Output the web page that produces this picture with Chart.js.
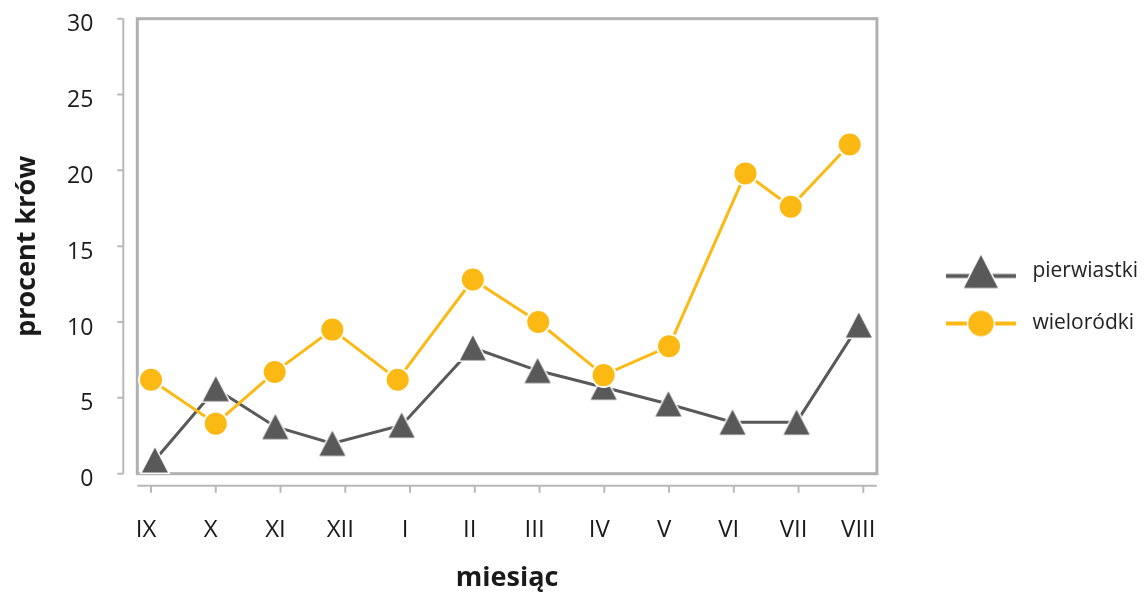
<!DOCTYPE html>
<html>
<head>
<meta charset="utf-8">
<script src="https://cdn.jsdelivr.net/npm/chart.js@4"></script>
<style>
  html, body { margin: 0; padding: 0; background: #fff; }
  #wrap { width: 1148px; height: 595px; }
</style>
</head>
<body>
<div id="wrap"><canvas id="c" width="1148" height="595"></canvas></div>
<script>
// ---- data ----
const categories = ['IX', 'X', 'XI', 'XII', 'I', 'II', 'III', 'IV', 'V', 'VI', 'VII', 'VIII'];
const seriesNames = ['pierwiastki', 'wieloródki'];
const pierwiastkiX = [0.06, 1.0, 1.92, 2.80, 3.87, 4.97, 5.97, 6.99, 7.99, 8.98, 9.97, 10.93];
const pierwiastki  = [0.9, 5.6, 3.1, 2.0, 3.2, 8.3, 6.8, 5.7, 4.6, 3.4, 3.4, 9.8];
const wielorodkiX  = [0.0, 1.0, 1.91, 2.80, 3.81, 4.97, 5.98, 6.99, 8.0, 9.18, 9.88, 10.79];
const wielorodki   = [6.2, 3.3, 6.7, 9.5, 6.2, 12.8, 10.0, 6.5, 8.4, 19.8, 17.6, 21.7];
const yTicks = [0, 5, 10, 15, 20, 25, 30];

const GRAY = '#595959';
const ORANGE = '#FDB913';
const AXIS = '#B0B0B0';

function drawTri(g, cx, cy, w, h) {
  g.beginPath();
  g.moveTo(cx, cy - h / 2);
  g.lineTo(cx + w / 2, cy + h / 2);
  g.lineTo(cx - w / 2, cy + h / 2);
  g.closePath();
  g.lineJoin = 'miter';
  g.strokeStyle = '#fff'; g.lineWidth = 3; g.stroke();
  g.fillStyle = GRAY; g.fill();
}
// marker on the chart (triangle centred on its box)
const triMarker = (() => {
  const c = document.createElement('canvas'); c.width = 32; c.height = 32;
  drawTri(c.getContext('2d'), 16, 16, 26, 25);
  return c;
})();
// legend symbols: line + marker
function legendSymbol(kind) {
  const c = document.createElement('canvas'); c.width = 114; c.height = 40;
  const g = c.getContext('2d');
  const ly = kind === 'tri' ? 24.5 : 20;
  g.strokeStyle = kind === 'tri' ? GRAY : ORANGE;
  g.lineWidth = 4;
  g.beginPath(); g.moveTo(38, ly); g.lineTo(108, ly); g.stroke();
  if (kind === 'tri') {
    drawTri(g, 73, 20, 34, 33);
  } else {
    g.beginPath(); g.arc(73, 20, 13.5, 0, Math.PI * 2);
    g.fillStyle = ORANGE; g.fill();
    g.strokeStyle = '#fff'; g.lineWidth = 1.5; g.stroke();
  }
  return c;
}
const legendSymbols = [legendSymbol('tri'), legendSymbol('circ')];

const framePlugin = {
  id: 'frame',
  beforeDatasetsDraw(chart) {
    const { ctx, chartArea: a, scales: { x, y } } = chart;
    ctx.save();
    // plot box
    ctx.strokeStyle = AXIS; ctx.lineWidth = 3;
    ctx.strokeRect(a.left, a.top, a.right - a.left, a.bottom - a.top);
    // detached y axis
    const yx = a.left - 14;
    ctx.strokeStyle = '#B8B8B8'; ctx.lineWidth = 2;
    ctx.beginPath();
    ctx.moveTo(yx, y.getPixelForValue(yTicks[yTicks.length - 1]));
    ctx.lineTo(yx, y.getPixelForValue(yTicks[0]));
    y.ticks.forEach(t => {
      const py = y.getPixelForValue(t.value);
      ctx.moveTo(yx - 6, py); ctx.lineTo(yx, py);
    });
    ctx.stroke();
    // detached x axis
    const xy = a.bottom + 12;
    ctx.beginPath();
    ctx.moveTo(a.left, xy); ctx.lineTo(a.right, xy);
    x.ticks.forEach(t => {
      const px = x.getPixelForValue(t.value);
      ctx.moveTo(px, xy); ctx.lineTo(px, xy + 7);
    });
    ctx.stroke();
    ctx.restore();
  }
};

Chart.defaults.font.family = "'Open Sans', 'Noto Sans', sans-serif";
Chart.defaults.color = '#1a1a1a';

new Chart(document.getElementById('c'), {
  type: 'line',
  data: {
    datasets: [
      {
        label: seriesNames[0],
        data: pierwiastkiX.map((v, i) => ({ x: v, y: pierwiastki[i] })),
        borderColor: GRAY, backgroundColor: GRAY, borderWidth: 3,
        pointStyle: triMarker, pointRadius: 13, pointHoverRadius: 13,
        tension: 0, clip: false, order: 2
      },
      {
        label: seriesNames[1],
        data: wielorodkiX.map((v, i) => ({ x: v, y: wielorodki[i] })),
        borderColor: ORANGE, backgroundColor: ORANGE, borderWidth: 3,
        pointStyle: 'circle', pointRadius: 12, pointHoverRadius: 12,
        pointBackgroundColor: ORANGE, pointBorderColor: '#fff', pointBorderWidth: 2,
        tension: 0, clip: false, order: 1
      }
    ]
  },
  options: {
    responsive: false,
    animation: false,
    layout: { padding: { top: 0, left: 0, right: 0, bottom: 0 } },
    scales: {
      x: {
        type: 'linear',
        min: -0.212, max: 11.21,
        grid: { display: false, drawTicks: false },
        border: { display: false },
        afterBuildTicks: s => { s.ticks = categories.map((_, i) => ({ value: i })); },
        afterFit: s => { s.height = 121.3; s.paddingLeft = 0; s.paddingRight = 0; },
        ticks: {
          padding: 42, labelOffset: -5, maxRotation: 0, autoSkip: false,
          font: { size: 24 }, color: '#1a1a1a',
          callback: v => categories[v]
        },
        title: {
          display: true, text: 'miesiąc', color: '#1a1a1a',
          font: { size: 27, weight: 'bold' }, padding: { top: 0, bottom: 0 }
        }
      },
      y: {
        min: 0, max: 30,
        afterBuildTicks: s => { s.ticks = yTicks.map(v => ({ value: v })); },
        afterFit: s => { s.width = 137.3; s.paddingTop = 18.7; s.paddingBottom = 0; },
        grid: { display: false, drawTicks: false },
        border: { display: false },
        ticks: { padding: 44, labelOffset: 6, font: { size: 23 }, color: '#1a1a1a' },
        title: {
          display: true, text: 'procent krów', color: '#1a1a1a',
          font: { size: 27, weight: 'bold' }, padding: { top: 11, bottom: 0 }
        }
      }
    },
    plugins: {
      tooltip: { enabled: false },
      legend: {
        position: 'right', align: 'center',
        labels: {
          usePointStyle: true, pointStyleWidth: 114, boxHeight: 21,
          padding: 31, color: '#222', font: { size: 21 },
          sort: (a, b) => a.datasetIndex - b.datasetIndex,
          generateLabels: chart => {
            const items = Chart.defaults.plugins.legend.labels.generateLabels(chart);
            items.forEach(it => { it.pointStyle = legendSymbols[it.datasetIndex]; it.lineWidth = 0; });
            return items;
          }
        }
      }
    }
  },
  plugins: [framePlugin]
});
</script>
</body>
</html>
